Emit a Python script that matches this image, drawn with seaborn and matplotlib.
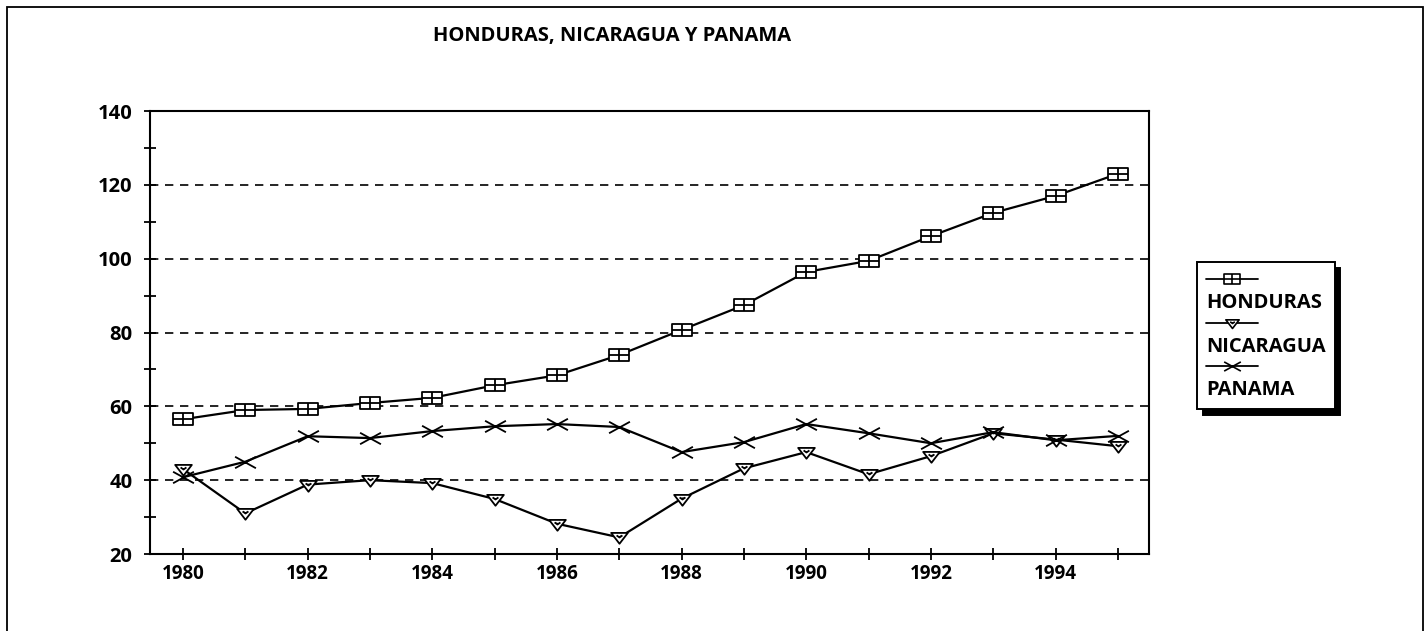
import numpy as np
import pandas as pd
import matplotlib
matplotlib.use("Agg")
import matplotlib.pyplot as plt
import seaborn as sns
from matplotlib.path import Path
from matplotlib.lines import Line2D
from matplotlib.patches import Rectangle

# ---- data ----
years = list(range(1980, 1996))
honduras = [56.5, 59.0, 59.3, 60.9, 62.3, 65.7, 68.4, 73.9, 80.7, 87.4, 96.4, 99.4, 106.1, 112.4, 117.0, 123.0]
nicaragua = [43.0, 31.0, 38.8, 40.0, 39.2, 34.9, 28.2, 24.5, 35.0, 43.2, 47.6, 41.6, 46.5, 52.7, 51.0, 49.2]
panama = [40.8, 45.0, 51.9, 51.4, 53.3, 54.6, 55.2, 54.4, 47.6, 50.3, 55.2, 52.7, 50.0, 53.0, 50.8, 52.0]
series_names = ["HONDURAS", "NICARAGUA", "PANAMA"]
title = "HONDURAS, NICARAGUA Y PANAMA"
y_ticks = [20, 40, 60, 80, 100, 120, 140]

df = pd.DataFrame({
    "year": years * 3,
    "value": honduras + nicaragua + panama,
    "country": sum([[n] * len(years) for n in series_names], []),
})

sns.set_theme(style="white")
plt.rcParams["font.family"] = ["Open Sans", "DejaVu Sans"]
plt.rcParams["font.weight"] = "bold"
for k in ["text.color", "axes.labelcolor", "xtick.color", "ytick.color", "axes.edgecolor"]:
    plt.rcParams[k] = "black"

# custom markers
box_marker = Path(
    [(-1, -0.6), (1, -0.6), (1, 0.6), (-1, 0.6), (-1, -0.6),
     (-1, 0), (1, 0), (0, -0.6), (0, 0.6)],
    [Path.MOVETO, Path.LINETO, Path.LINETO, Path.LINETO, Path.CLOSEPOLY,
     Path.MOVETO, Path.LINETO, Path.MOVETO, Path.LINETO])
tri_marker = Path(
    [(-1, 0.55), (1, 0.55), (0, -0.75), (-1, 0.55),
     (-0.35, 0.25), (0, 0.0), (0.35, 0.25)],
    [Path.MOVETO, Path.LINETO, Path.LINETO, Path.CLOSEPOLY,
     Path.MOVETO, Path.LINETO, Path.LINETO])
x_marker = Path(
    [(-1, -0.55), (1, 0.55), (-1, 0.55), (1, -0.55)],
    [Path.MOVETO, Path.LINETO, Path.MOVETO, Path.LINETO])

marker_map = {"HONDURAS": (box_marker, 14.5), "NICARAGUA": (tri_marker, 12), "PANAMA": (x_marker, 15)}

fig = plt.figure(figsize=(14.26, 6.31), dpi=100)
ax = fig.add_axes([150 / 1426, 1 - 554 / 631, (1149 - 150) / 1426, (554 - 111) / 631])

for name in series_names:
    m, ms = marker_map[name]
    sns.lineplot(data=df[df["country"] == name], x="year", y="value", ax=ax,
                 color="black", lw=1.6, marker=m, markersize=ms,
                 markerfacecolor="white", markeredgecolor="black",
                 markeredgewidth=1.3, legend=False)

ax.set_xlim(1979.47, 1995.5)
ax.set_ylim(20, 140)
ax.set_xlabel("")
ax.set_ylabel("")

ax.set_xticks(years)
ax.set_xticklabels([str(y) if y % 2 == 0 else "" for y in years], fontsize=13.5, fontweight="bold")
ax.set_yticks(y_ticks)
ax.set_yticklabels([str(v) for v in y_ticks], fontsize=14.5, fontweight="bold")
ax.set_yticks([30, 50, 70, 90, 110, 130], minor=True)
ax.tick_params(axis="both", which="both", direction="inout", length=9, width=1.3,
               color="black", labelcolor="black", left=True, bottom=True)
ax.tick_params(axis="x", pad=3)
ax.tick_params(axis="y", pad=8)

ax.yaxis.grid(True, linestyle=(0, (5, 4)), color="black", lw=1.2)
ax.xaxis.grid(False)
for s in ax.spines.values():
    s.set_visible(True)
    s.set_color("black")
    s.set_linewidth(1.5)

fig.text(612 / 1426, 1 - 36 / 631, title, ha="center", va="center",
         fontsize=14.5, fontweight="bold", color="black")

# legend: marker line above label
handles, labels = [], []
for name in series_names:
    m, ms = marker_map[name]
    handles.append(Line2D([], [], color="black", lw=1.3, marker=m, markersize=ms * 0.8,
                          markerfacecolor="white", markeredgecolor="black", markeredgewidth=1.2))
    labels.append(" ")
    handles.append(Line2D([], [], color="none", lw=0))
    labels.append(name)

leg = fig.legend(handles, labels, loc="upper left",
                 bbox_to_anchor=(1197 / 1426, 1 - 262 / 631),
                 frameon=True, fancybox=False, edgecolor="black",
                 handlelength=2.6, handletextpad=-2.6, labelspacing=0.09,
                 borderpad=0.45, borderaxespad=0,
                 prop={"size": 14.5, "weight": "bold"},
                 shadow={"color": "black", "alpha": 1, "ox": 4, "oy": -4})
leg.get_frame().set_linewidth(1.4)
for t in leg.get_texts():
    t.set_color("black")

# outer frame
fig.add_artist(Rectangle((7 / 1426, -0.02), (1423 - 7) / 1426, 1 - 7 / 631 + 0.02,
                         transform=fig.transFigure, fill=False, edgecolor="black", lw=1.3))

fig.savefig("out.png", dpi=100)
